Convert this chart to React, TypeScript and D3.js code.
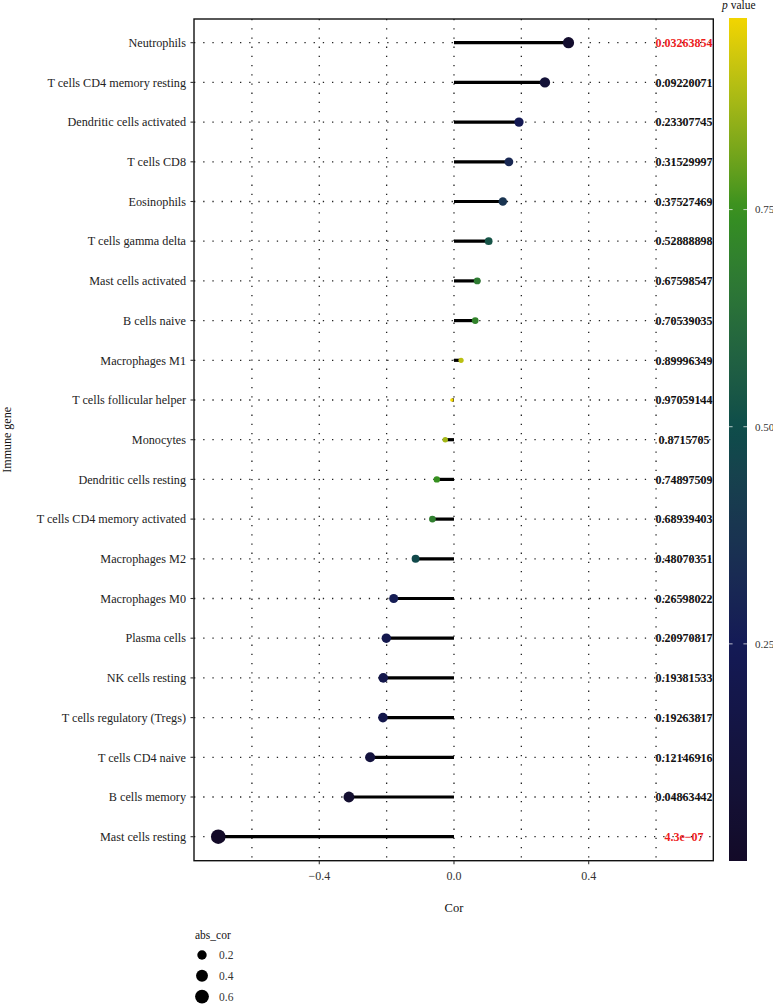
import React from "react";
import * as d3 from "d3";

// ---- data ----
const categories = [
  "Neutrophils",
  "T cells CD4 memory resting",
  "Dendritic cells activated",
  "T cells CD8",
  "Eosinophils",
  "T cells gamma delta",
  "Mast cells activated",
  "B cells naive",
  "Macrophages M1",
  "T cells follicular helper",
  "Monocytes",
  "Dendritic cells resting",
  "T cells CD4 memory activated",
  "Macrophages M2",
  "Macrophages M0",
  "Plasma cells",
  "NK cells resting",
  "T cells regulatory (Tregs)",
  "T cells CD4 naive",
  "B cells memory",
  "Mast cells resting",
];
const corValues = [
  0.34, 0.27, 0.193, 0.163, 0.145, 0.103, 0.069, 0.063, 0.021, -0.006, -0.026,
  -0.051, -0.064, -0.114, -0.179, -0.201, -0.21, -0.211, -0.249, -0.312, -0.7,
];
const pValues = [
  0.03263854, 0.09220071, 0.23307745, 0.31529997, 0.37527469, 0.52888898,
  0.67598547, 0.70539035, 0.89996349, 0.97059144, 0.8715705, 0.74897509,
  0.68939403, 0.48070351, 0.26598022, 0.20970817, 0.19381533, 0.19263817,
  0.12146916, 0.04863442, 4.3e-7,
];
const pLabels = [
  "0.03263854", "0.09220071", "0.23307745", "0.31529997", "0.37527469",
  "0.52888898", "0.67598547", "0.70539035", "0.89996349", "0.97059144",
  "0.8715705", "0.74897509", "0.68939403", "0.48070351", "0.26598022",
  "0.20970817", "0.19381533", "0.19263817", "0.12146916", "0.04863442",
  "4.3e\u221207",
];
const redLabels = ["Neutrophils", "Mast cells resting"];
const xTicks = [-0.4, 0, 0.4];
const xGrid = [-0.6, -0.4, -0.2, 0, 0.2, 0.4, 0.6];
const colorTicks = [0.25, 0.5, 0.75];
const sizeLegend = [0.2, 0.4, 0.6];
const colorStopValues = [0, 0.25, 0.5, 0.75, 0.9706];
const colorStops = ["#130a28", "#141a56", "#0d4d4a", "#36901f", "#f2d500"];
const labelX = 0.683;

const FONT = "'Liberation Serif', 'DejaVu Serif', serif";

export default function App() {
  const W = 773;
  const H = 1004;
  const x = d3.scaleLinear().domain([-0.772, 0.77]).range([194, 713.3]);
  const y = d3.scalePoint<string>().domain(categories).range([42.7, 836.7]);
  const top = 19;
  const bottom = 860.7;
  const left = x.range()[0];
  const right = x.range()[1];

  const pMin = d3.min(pValues)!;
  const pMax = d3.max(pValues)!;
  const color = d3
    .scaleLinear<string>()
    .domain(colorStopValues)
    .range(colorStops)
    .interpolate(d3.interpolateLab)
    .clamp(true);

  const absVals = corValues.map(Math.abs);
  const aMin = d3.min(absVals)!;
  const aMax = d3.max(absVals)!;
  const resc = d3.scaleLinear().domain([aMin, aMax]).range([0, 1]);
  const rad = (v: number) => 1.8 + 5.5 * Math.sqrt(Math.max(0, resc(v)));

  const cbTop = 18;
  const cbBottom = 861;
  const cbX0 = 729;
  const cbX1 = 747;
  const cy = d3.scaleLinear().domain([pMin, pMax]).range([cbBottom, cbTop]);
  const gradStops = d3.range(0, 1.0001, 0.02).map((t) => ({
    off: t,
    col: color(pMin + (1 - t) * (pMax - pMin)),
  }));

  const fmt = (v: number) => (v < 0 ? "\u2212" : "") + Math.abs(v).toFixed(1);

  return (
    <svg
      width={W}
      height={H}
      style={{ position: "absolute", left: 0, top: 0, background: "#fff" }}
      fontFamily={FONT}
    >
      <defs>
        <linearGradient id="cb" x1="0" y1="0" x2="0" y2="1">
          {gradStops.map((s, i) => (
            <stop key={i} offset={s.off} stopColor={s.col} />
          ))}
        </linearGradient>
      </defs>
      <rect x={0} y={0} width={W} height={H} fill="#fff" />

      {/* grid */}
      <g stroke="#222" strokeWidth={1.3} strokeDasharray="1.3 7.9" fill="none">
        {xGrid.map((g) => (
          <line key={g} x1={x(g)} x2={x(g)} y1={top} y2={bottom} />
        ))}
        {categories.map((c) => (
          <line key={c} x1={left} x2={right} y1={y(c)!} y2={y(c)!} />
        ))}
      </g>

      {/* segments */}
      {categories.map((c, i) => (
        <line
          key={c}
          x1={x(0)}
          x2={x(corValues[i])}
          y1={y(c)!}
          y2={y(c)!}
          stroke="#000"
          strokeWidth={3.2}
        />
      ))}
      {/* points */}
      {categories.map((c, i) => (
        <circle
          key={c}
          cx={x(corValues[i])}
          cy={y(c)!}
          r={rad(absVals[i])}
          fill={color(pValues[i])}
        />
      ))}
      {/* p labels */}
      {categories.map((c, i) => (
        <text
          key={c}
          x={x(labelX)}
          y={y(c)!}
          dy="0.35em"
          textAnchor="middle"
          fontSize={12}
          fontWeight="bold"
          fill={redLabels.includes(c) ? "#ee1c1c" : "#111"}
        >
          {pLabels[i]}
        </text>
      ))}

      {/* panel border */}
      <rect
        x={left}
        y={top}
        width={right - left}
        height={bottom - top}
        fill="none"
        stroke="#111"
        strokeWidth={1.4}
      />

      {/* y axis */}
      {categories.map((c) => (
        <g key={c}>
          <line x1={left - 3.5} x2={left} y1={y(c)!} y2={y(c)!} stroke="#333" strokeWidth={1.1} />
          <text
            x={left - 8}
            y={y(c)!}
            dy="0.35em"
            textAnchor="end"
            fontSize={12.2}
            fill="#222"
          >
            {c}
          </text>
        </g>
      ))}
      <text
        transform={`translate(11,${(top + bottom) / 2}) rotate(-90)`}
        textAnchor="middle"
        fontSize={12}
        fill="#111"
      >
        Immune gene
      </text>

      {/* x axis */}
      {xTicks.map((t) => (
        <g key={t}>
          <line x1={x(t)} x2={x(t)} y1={bottom} y2={bottom + 3.5} stroke="#333" strokeWidth={1.1} />
          <text x={x(t)} y={bottom + 19} textAnchor="middle" fontSize={12} fill="#333">
            {fmt(t)}
          </text>
        </g>
      ))}
      <text x={x(0)} y={912} textAnchor="middle" fontSize={12.5} fill="#111">
        Cor
      </text>

      {/* size legend */}
      <text x={195} y={939} fontSize={11.5} fill="#111">
        abs_cor
      </text>
      {sizeLegend.map((v, i) => (
        <g key={v}>
          <circle cx={202} cy={955 + i * 20.8} r={rad(v)} fill="#000" />
          <text x={219} y={955 + i * 20.8} dy="0.35em" fontSize={11.5} fill="#333">
            {v.toFixed(1)}
          </text>
        </g>
      ))}

      {/* colour bar */}
      <text x={722} y={9} fontSize={11.5} fill="#111">
        <tspan fontStyle="italic">p</tspan> value
      </text>
      <rect x={cbX0} y={cbTop} width={cbX1 - cbX0} height={cbBottom - cbTop} fill="url(#cb)" />
      {colorTicks.map((t) => (
        <g key={t}>
          <line x1={cbX0} x2={cbX0 + 3.6} y1={cy(t)} y2={cy(t)} stroke="#fff" strokeOpacity={0.7} strokeWidth={1} />
          <line x1={cbX1 - 3.6} x2={cbX1} y1={cy(t)} y2={cy(t)} stroke="#fff" strokeOpacity={0.7} strokeWidth={1} />
          <text x={755} y={cy(t)} dy="0.35em" fontSize={11} fill="#333">
            {t.toFixed(2)}
          </text>
        </g>
      ))}
    </svg>
  );
}
